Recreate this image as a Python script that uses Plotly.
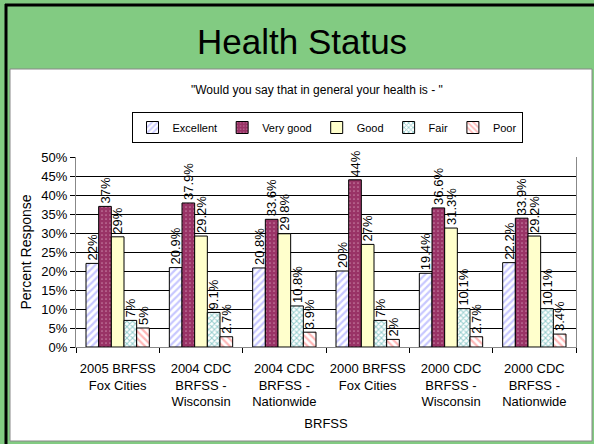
import plotly.graph_objects as go

categories = ["2005 BRFSS<br>Fox Cities", "2004 CDC<br>BRFSS -<br>Wisconsin",
              "2004 CDC<br>BRFSS -<br>Nationwide", "2000 BRFSS<br>Fox Cities",
              "2000 CDC<br>BRFSS -<br>Wisconsin", "2000 CDC<br>BRFSS -<br>Nationwide"]
excellent = [22, 20.9, 20.8, 20, 19.4, 22.2]
very_good = [37, 37.9, 33.6, 44, 36.6, 33.9]
good = [29, 29.2, 29.8, 27, 31.3, 29.2]
fair = [7, 9.1, 10.8, 7, 10.1, 10.1]
poor = [5, 2.7, 3.9, 2, 2.7, 3.4]
y_ticks = [0, 5, 10, 15, 20, 25, 30, 35, 40, 45, 50]

series = [
    ("Excellent", excellent, dict(shape="/", fgcolor="#9090ff", bgcolor="white", size=5, solidity=0.45)),
    ("Very good", very_good, dict(shape=".", fgcolor="#f0c8dc", bgcolor="#993366", size=4, solidity=0.15)),
    ("Good", good, None),
    ("Fair", fair, dict(shape="x", fgcolor="#2a9a9a", bgcolor="white", size=4, solidity=0.45)),
    ("Poor", poor, dict(shape="\\", fgcolor="#ff7070", bgcolor="white", size=5, solidity=0.45)),
]

fig = go.Figure()
for name, vals, pat in series:
    marker = dict(line=dict(color="black", width=1))
    if pat is None:
        marker["color"] = "#ffffcc"
    else:
        marker["color"] = pat["bgcolor"]
        marker["pattern"] = pat
    fig.add_trace(go.Bar(
        name=name, x=categories, y=vals, marker=marker,
        text=[f"{v:g}%" for v in vals], textposition="outside", textangle=-90,
        textfont=dict(family="Arial", size=13, color="black"),
        constraintext="none", cliponaxis=False,
    ))

fig.update_layout(
    width=594, height=444, autosize=False,
    paper_bgcolor="#82cb82", plot_bgcolor="white",
    margin=dict(l=76, r=18, t=157, b=97, autoexpand=False),
    barmode="group", bargap=0.24, bargroupgap=0,
    font=dict(family="Arial", size=12, color="black"),
    showlegend=True,
    legend=dict(orientation="h", xref="container", yref="container",
                x=327/594, xanchor="center", y=1 - 112/444, yanchor="top",
                bordercolor="black", borderwidth=1, bgcolor="white",
                font=dict(size=11), itemwidth=30, traceorder="normal",
                itemclick=False, tracegroupgap=0),
    shapes=[
        dict(type="rect", xref="paper", yref="paper", layer="below",
             x0=-66/500, x1=516/500, y0=(347-441)/190, y1=(347-69)/190,
             fillcolor="white", line=dict(color="#888888", width=1)),
        dict(type="line", xref="paper", yref="paper",
             x0=-71/500, x1=518/500, y0=(347-5)/190, y1=(347-5)/190,
             line=dict(color="black", width=3)),
        dict(type="line", xref="paper", yref="paper",
             x0=-70/500, x1=-70/500, y0=(347-444)/190, y1=(347-4)/190,
             line=dict(color="black", width=3)),
    ],
    annotations=[
        dict(text="Health Status", xref="paper", yref="paper", x=(302-76)/500, y=(347-41)/190,
             showarrow=False, font=dict(size=35, family="Arial"), xanchor="center", yanchor="middle"),
        dict(text="\"Would you say that in general your health is - \"", xref="paper", yref="paper",
             x=(317-76)/500, y=(347-90)/190, showarrow=False, font=dict(size=12, family="Arial"),
             xanchor="center", yanchor="middle"),
    ],
)
fig.update_xaxes(
    title=dict(text="BRFSS", font=dict(size=13), standoff=10),
    showline=True, linecolor="#888888", linewidth=1, mirror=False,
    ticks="outside", tickson="boundaries", ticklen=5, tickcolor="black",
    tickfont=dict(size=13), tickangle=0, ticklabelstandoff=9,
)
fig.update_yaxes(
    title=dict(text="Percent Response", font=dict(size=14), standoff=6),
    range=[0, 50], tickvals=y_ticks, ticktext=[f"{v}%" for v in y_ticks],
    showgrid=True, gridcolor="black", gridwidth=1,
    showline=True, linecolor="#888888", linewidth=1, mirror=True,
    ticks="outside", ticklen=5, tickcolor="black", tickfont=dict(size=13),
    zeroline=False,
)
fig.write_html("out.html", config={"displayModeBar": False},
               post_script="document.body.style.margin='0';")
